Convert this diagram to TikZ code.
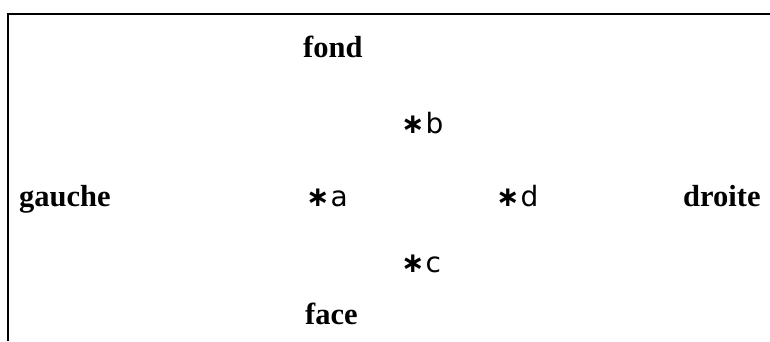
\documentclass[tikz,border=0pt]{standalone}
\usepackage{fontspec}
\setmainfont{Liberation Serif}
\newfontfamily\ptfont{DejaVu Sans}
\newcommand{\ptmark}{{\bfseries ∗}\hspace{1pt}}
\tikzset{
  side/.style={anchor=base west, inner sep=0pt, font=\fontsize{30.5}{32}\selectfont\bfseries},
  pt/.style={anchor=base west, inner sep=0pt, font=\fontsize{28}{32}\ptfont},
  frame/.style={line width=1.5pt, draw=black}
}
\begin{document}
\begin{tikzpicture}[x=1pt,y=-1pt]
\useasboundingbox (0,0) rectangle (770,341);
\coordinate (tl) at (8,14);
\coordinate (tr) at (770,14);
\coordinate (bl) at (8,341);
\draw[frame] (tr) -- (tl) -- (bl);
\node[side] (fond) at (303,57) {fond};
\node[side] (face) at (305,324) {face};
\node[side] (gauche) at (19,206) {gauche};
\node[side] (droite) at (683,206) {droite};
\node[pt] (b) at (401,133) {\ptmark b};
\node[pt] (a) at (306,206) {\ptmark a};
\node[pt] (d) at (496,206) {\ptmark d};
\node[pt] (c) at (401,272) {\ptmark c};
\end{tikzpicture}
\end{document}
